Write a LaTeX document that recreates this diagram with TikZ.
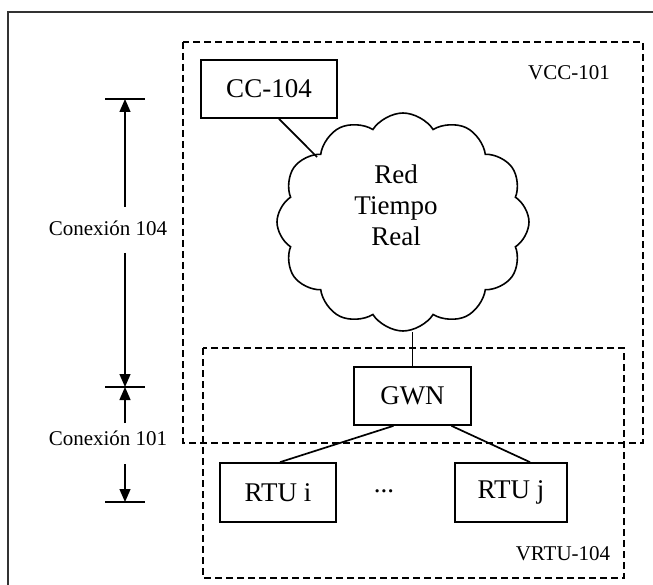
\documentclass[tikz,border=0pt]{standalone}
\usepackage{fontspec}
\setmainfont{Liberation Serif}
\usetikzlibrary{shapes.symbols,arrows.meta,calc}
\begin{document}
\begin{tikzpicture}[x=1pt,y=-1pt,
  big/.style={font=\fontsize{27}{31}\selectfont},
  small/.style={font=\fontsize{21}{25}\selectfont},
  boxn/.style={draw, line width=1.7pt, inner sep=0pt, big},
  dashbox/.style={draw, line width=1.7pt, dash pattern=on 7pt off 4pt},
  link/.style={line width=1.7pt},
  dimarrow/.style={line width=1.3pt, -{Triangle[width=11pt,length=13pt]}},
  dimbar/.style={line width=1.7pt}]
\useasboundingbox (0,0) rectangle (653,585);
% outer frame
\draw[line width=1.8pt, black!80] (8,12) rectangle (700,640);
% dashed groups
\draw[dashbox] (183,42) rectangle (643,443);
\draw[dashbox] (203,348) rectangle (624,578);
\node[small] (vcc) at (569,73) {VCC-101};
\node[small] (vrtu) at (563,554) {VRTU-104};
% nodes
\node[boxn, minimum width=136pt, minimum height=58pt] (cc) at (269,89) {CC-104\hspace{10pt}};
\node[draw, cloud, cloud puffs=12, cloud puff arc=115, line width=1.6pt,
      minimum width=252pt, minimum height=218pt, inner sep=0pt] (cloud) at (403,222) {};
\node[big, align=center] (cloudtext) at (396,205) {Red\\Tiempo\\Real};
\node[boxn, minimum width=117pt, minimum height=58pt] (gwn) at (412.5,396) {GWN\hspace{10pt}};
\node[boxn, minimum width=116pt, minimum height=59pt] (rtui) at (278,492.5) {RTU i\hspace{6pt}};
\node[boxn, minimum width=112pt, minimum height=59pt] (rtuj) at (511,492.5) {RTU j\hspace{6pt}};
\node[big] (dots) at (384,491) {...};
% connectors
\coordinate (ccin) at (317,157);
\draw[link] ([xshift=10pt]cc.south) -- (ccin);
\draw[link] (gwn.north |- cloud.south) -- (gwn.north);
\draw[link] ([xshift=-19pt]gwn.south) -- ([xshift=2pt]rtui.north);
\draw[link] ([xshift=39pt]gwn.south) -- ([xshift=19pt]rtuj.north);
% dimension lines
\coordinate (t1) at (125,99);
\coordinate (t2) at (125,387);
\coordinate (t3) at (125,502);
\draw[dimbar] ([xshift=-20pt]t1) -- ([xshift=20pt]t1);
\draw[dimbar] ([xshift=-20pt]t2) -- ([xshift=20pt]t2);
\draw[dimbar] ([xshift=-20pt]t3) -- ([xshift=20pt]t3);
\node[small] (c104) at (108,228) {Conexión 104};
\node[small] (c101) at (108,438) {Conexión 101};
\coordinate (a1) at (125,207);
\coordinate (a2) at (125,253);
\coordinate (a3) at (125,423);
\coordinate (a4) at (125,464);
\draw[dimarrow] (a1) -- (t1);
\draw[dimarrow] (a2) -- (t2);
\draw[dimarrow] (a3) -- (t2);
\draw[dimarrow] (a4) -- (t3);
\end{tikzpicture}
\end{document}
